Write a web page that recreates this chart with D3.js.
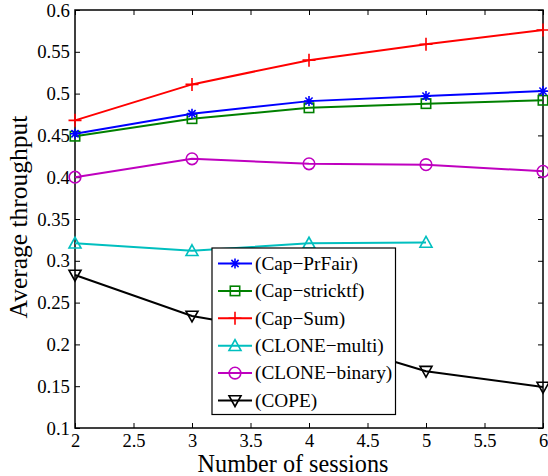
<!DOCTYPE html>
<html>
<head>
<meta charset="utf-8">
<script src="https://cdn.jsdelivr.net/npm/d3@7"></script>
<style>
html,body{margin:0;padding:0;background:#fff;}
svg{display:block;font-family:"Liberation Serif","Times New Roman",serif;}
</style>
</head>
<body>
<svg id="chart" width="548" height="476"></svg>
<script>
// ---- data ----
const sessions = [2, 3, 4, 5, 6];
const capPrFair = [0.452, 0.476, 0.491, 0.497, 0.503];
const capStricktf = [0.449, 0.470, 0.483, 0.488, 0.492];
const capSum = [0.468, 0.511, 0.540, 0.559, 0.576];
const cloneMultiSessions = [2, 3, 4, 5];
const cloneMulti = [0.321, 0.312, 0.321, 0.322];
const cloneBinary = [0.400, 0.422, 0.416, 0.415, 0.407];
const cope = [0.283, 0.234, 0.210, 0.168, 0.149];
const xTicks = [2, 2.5, 3, 3.5, 4, 4.5, 5, 5.5, 6];
const yTicks = [0.1, 0.15, 0.2, 0.25, 0.3, 0.35, 0.4, 0.45, 0.5, 0.55, 0.6];
const seriesNames = ["(Cap−PrFair)", "(Cap−stricktf)", "(Cap−Sum)", "(CLONE−multi)", "(CLONE−binary)", "(COPE)"];

const series = [
  {name: seriesNames[0], xs: sessions, ys: capPrFair, color: "#0000ff", marker: "star"},
  {name: seriesNames[1], xs: sessions, ys: capStricktf, color: "#008000", marker: "square"},
  {name: seriesNames[2], xs: sessions, ys: capSum, color: "#ff0000", marker: "plus"},
  {name: seriesNames[3], xs: cloneMultiSessions, ys: cloneMulti, color: "#00bfbf", marker: "triUp"},
  {name: seriesNames[4], xs: sessions, ys: cloneBinary, color: "#bf00bf", marker: "circle"},
  {name: seriesNames[5], xs: sessions, ys: cope, color: "#000000", marker: "triDown"}
];

const FONT = '"Liberation Serif","Times New Roman",serif';
const svg = d3.select("#chart");
const L = 75, T = 10, R = 543, B = 428;
const x = d3.scaleLinear().domain([2, 6]).range([L, R]);
const y = d3.scaleLinear().domain([0.1, 0.6]).range([B, T]);

// axes
const fmt = d => String(+d.toFixed(2));
const gx = svg.append("g").attr("transform", `translate(0,${B})`)
  .call(d3.axisBottom(x).tickValues(xTicks).tickFormat(fmt).tickSizeInner(-5).tickSizeOuter(0).tickPadding(5.4));
const gxTop = svg.append("g").attr("transform", `translate(0,${T})`)
  .call(d3.axisTop(x).tickValues(xTicks).tickFormat("").tickSizeInner(-5).tickSizeOuter(0));
const gy = svg.append("g").attr("transform", `translate(${L},0)`)
  .call(d3.axisLeft(y).tickValues(yTicks).tickFormat(fmt).tickSizeInner(-5).tickSizeOuter(0).tickPadding(5));
const gyRight = svg.append("g").attr("transform", `translate(${R},0)`)
  .call(d3.axisRight(y).tickValues(yTicks).tickFormat("").tickSizeInner(-5).tickSizeOuter(0));
[gx, gxTop, gy, gyRight].forEach(g => {
  g.attr("font-family", FONT);
  g.select(".domain").remove();
  g.selectAll(".tick line").attr("stroke", "#000").attr("stroke-width", 1);
  g.selectAll("text").attr("fill", "#000").attr("font-size", 18.8).attr("font-family", FONT);
});
gx.selectAll("text").attr("font-size", 18.5).attr("dy", "0.71em");

// frame
svg.append("rect").attr("x", L).attr("y", T).attr("width", R - L).attr("height", B - T)
  .attr("fill", "none").attr("stroke", "#000").attr("stroke-width", 1.5);

// marker drawing
function drawMarker(g, type, cx, cy, color) {
  const sw = 1.6;
  if (type === "star") {
    const r = 5, d = r * 0.72;
    const p = `M${cx - r},${cy}L${cx + r},${cy}M${cx},${cy - r}L${cx},${cy + r}M${cx - d},${cy - d}L${cx + d},${cy + d}M${cx - d},${cy + d}L${cx + d},${cy - d}`;
    g.append("path").attr("d", p).attr("stroke", color).attr("stroke-width", sw).attr("fill", "none");
  } else if (type === "square") {
    const s = 4.7;
    g.append("rect").attr("x", cx - s).attr("y", cy - s).attr("width", 2 * s).attr("height", 2 * s)
      .attr("fill", "none").attr("stroke", color).attr("stroke-width", sw);
  } else if (type === "plus") {
    const r = 6.5;
    g.append("path").attr("d", `M${cx - r},${cy}L${cx + r},${cy}M${cx},${cy - r}L${cx},${cy + r}`)
      .attr("stroke", color).attr("stroke-width", sw).attr("fill", "none");
  } else if (type === "circle") {
    g.append("circle").attr("cx", cx).attr("cy", cy).attr("r", 5.8)
      .attr("fill", "none").attr("stroke", color).attr("stroke-width", sw);
  } else if (type === "triUp") {
    const r = 6;
    g.append("path").attr("d", `M${cx},${cy - r}L${cx + r},${cy + r * 0.8}L${cx - r},${cy + r * 0.8}Z`)
      .attr("fill", "none").attr("stroke", color).attr("stroke-width", sw);
  } else if (type === "triDown") {
    const r = 6;
    g.append("path").attr("d", `M${cx},${cy + r}L${cx + r},${cy - r * 0.8}L${cx - r},${cy - r * 0.8}Z`)
      .attr("fill", "none").attr("stroke", color).attr("stroke-width", sw);
  }
}

// series lines
const line = d3.line().x(d => x(d[0])).y(d => y(d[1]));
const plotG = svg.append("g");
series.slice().reverse().forEach(s => {
  const pts = s.xs.map((v, i) => [v, s.ys[i]]);
  plotG.append("path").datum(pts).attr("d", line)
    .attr("fill", "none").attr("stroke", s.color).attr("stroke-width", 2);
  pts.forEach(p => drawMarker(plotG, s.marker, x(p[0]), y(p[1]), s.color));
});

// legend
const lg = svg.append("g").attr("font-family", FONT);
lg.append("rect").attr("x", 212).attr("y", 248).attr("width", 183.5).attr("height", 166.5)
  .attr("fill", "#fff").attr("stroke", "#000").attr("stroke-width", 1.2);
series.forEach((s, i) => {
  const cy = 263.5 + i * 27.4;
  lg.append("line").attr("x1", 218).attr("x2", 252).attr("y1", cy).attr("y2", cy)
    .attr("stroke", s.color).attr("stroke-width", 2);
  drawMarker(lg, s.marker, 235, cy, s.color);
  lg.append("text").attr("x", 255).attr("y", cy).attr("dy", "0.33em")
    .attr("font-size", 19.3).attr("fill", "#000").text(s.name);
});

// axis titles
svg.append("text").attr("x", 293).attr("y", 472).attr("text-anchor", "middle")
  .attr("font-family", FONT).attr("font-size", 24.2).attr("fill", "#000").text("Number of sessions");
svg.append("text").attr("transform", "translate(27,217) rotate(-90)").attr("text-anchor", "middle")
  .attr("font-family", FONT).attr("font-size", 25.5).attr("fill", "#000").text("Average throughput");
</script>
</body>
</html>
